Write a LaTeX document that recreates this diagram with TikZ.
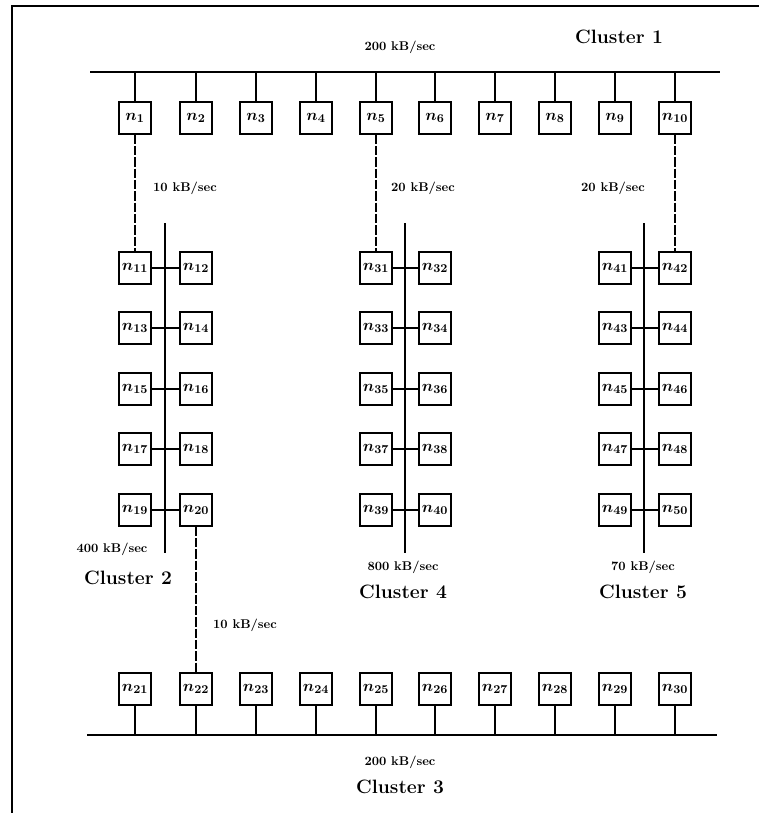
\documentclass[tikz,border=0pt]{standalone}
\usepackage{amsmath}
\begin{document}
\begin{tikzpicture}[x=0.75pt,y=-0.75pt,
  nodebox/.style={draw,line width=1.3pt,minimum width=23.5pt,minimum height=23.5pt,inner sep=0pt,font=\fontsize{12.5}{13}\selectfont\boldmath},
  bus/.style={line width=1.6pt},
  tap/.style={line width=1.2pt},
  link/.style={line width=1.2pt,dash pattern=on 7pt off 1.5pt},
  rate/.style={font=\bfseries\fontsize{9.5}{11}\selectfont},
  clabel/.style={font=\bfseries\fontsize{14.5}{16}\selectfont}]
\useasboundingbox (0,0) rectangle (759,813);
% frame
\coordinate (fTL) at (12,6);
\coordinate (fTR) at (759,6);
\coordinate (fBL) at (12,813);
\draw[line width=2pt] (fTR) -- (fTL) -- (fBL);
% Cluster 1
\coordinate (b1L) at (90,72);
\coordinate (b1R) at (720,72);
\draw[bus] (b1L) -- (b1R);
\foreach \i/\x in {1/135,2/196,3/256,4/316,5/376,6/435,7/495,8/555,9/615,10/675}{
  \node[nodebox] (n\i) at (\x,118) {$n_{\i}$};
  \draw[tap] (n\i.north) -- (n\i.north |- b1L);
}
\node[rate] (r1) at (400,47) {200 kB/sec};
\node[clabel] (c1) at (619,37) {Cluster 1};
% Cluster 3
\coordinate (b3L) at (87,735);
\coordinate (b3R) at (717,735);
\draw[bus] (b3L) -- (b3R);
\foreach \i/\x in {21/135,22/196,23/256,24/316,25/376,26/435,27/495,28/555,29/615,30/675}{
  \node[nodebox] (n\i) at (\x,689) {$n_{\i}$};
  \draw[tap] (n\i.south) -- (n\i.south |- b3L);
}
\node[rate] (r3) at (400,762) {200 kB/sec};
\node[clabel] (c3) at (400,787) {Cluster 3};
% Cluster 2
\coordinate (b2T) at (165,223);
\coordinate (b2B) at (165,553);
\draw[bus] (b2T) -- (b2B);
\foreach \a/\b/\y in {11/12/268,13/14/328,15/16/389,17/18/449,19/20/510}{
  \node[nodebox] (n\a) at (135,\y) {$n_{\a}$};
  \node[nodebox] (n\b) at (196,\y) {$n_{\b}$};
  \draw[tap] (n\a.east) -- (n\b.west);
}
\node[rate] (r2) at (112,549) {400 kB/sec};
\node[clabel] (c2) at (128,578) {Cluster 2};
% Cluster 4
\coordinate (b4T) at (405,223);
\coordinate (b4B) at (405,553);
\draw[bus] (b4T) -- (b4B);
\foreach \a/\b/\y in {31/32/268,33/34/328,35/36/389,37/38/449,39/40/510}{
  \node[nodebox] (n\a) at (376,\y) {$n_{\a}$};
  \node[nodebox] (n\b) at (435,\y) {$n_{\b}$};
  \draw[tap] (n\a.east) -- (n\b.west);
}
\node[rate] (r4) at (403,567) {800 kB/sec};
\node[clabel] (c4) at (403,592) {Cluster 4};
% Cluster 5
\coordinate (b5T) at (644,223);
\coordinate (b5B) at (644,553);
\draw[bus] (b5T) -- (b5B);
\foreach \a/\b/\y in {41/42/268,43/44/328,45/46/389,47/48/449,49/50/510}{
  \node[nodebox] (n\a) at (615,\y) {$n_{\a}$};
  \node[nodebox] (n\b) at (675,\y) {$n_{\b}$};
  \draw[tap] (n\a.east) -- (n\b.west);
}
\node[rate] (r5) at (643,567) {70 kB/sec};
\node[clabel] (c5) at (643,592) {Cluster 5};
% inter-cluster links
\draw[link] (n1.south) -- (n11.north);
\draw[link] (n5.south) -- (n31.north);
\draw[link] (n10.south) -- (n42.north);
\draw[link] (n20.south) -- (n22.north);
\node[rate] (l1) at (185,188) {10 kB/sec};
\node[rate] (l2) at (423,188) {20 kB/sec};
\node[rate] (l3) at (613,188) {20 kB/sec};
\node[rate] (l4) at (245,625) {10 kB/sec};
\end{tikzpicture}
\end{document}
